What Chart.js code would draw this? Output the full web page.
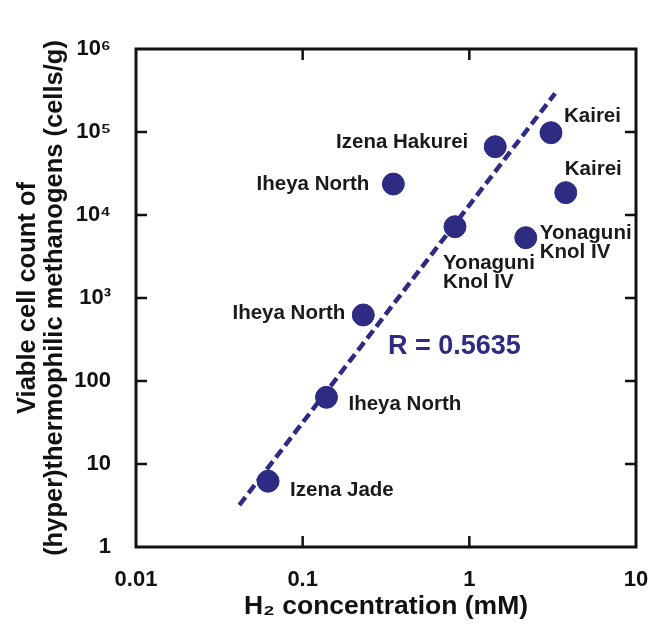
<!DOCTYPE html>
<html>
<head>
<meta charset="utf-8">
<script src="https://cdn.jsdelivr.net/npm/chart.js@4"></script>
<style>
  body { margin: 0; background: #fff; }
  canvas { display: block; }
</style>
</head>
<body>
<canvas id="h2-chart" width="652" height="636"></canvas>
<script>
// H2 concentration (mM) and viable cell count (cells/g) for each site
const h2Values = [0.062, 0.139, 0.231, 0.35, 0.82, 1.43, 2.18, 3.09, 3.79];
const cellCounts = [6.2, 63.6, 624, 23600, 7230, 66500, 5330, 98000, 18600];
const siteNames = ['Izena Jade', 'Iheya North', 'Iheya North', 'Iheya North', 'Yonaguni\nKnol IV',
                   'Izena Hakurei', 'Yonaguni\nKnol IV', 'Kairei', 'Kairei'];

// regression line end points
const fitX = [0.0417, 3.27];
const fitY = [3.2, 292000];
const fitLabel = 'R = 0.5635';
const fitLabelAt = {x: 0.325, y: 259};

const xTickValues = [0.01, 0.1, 1, 10];
const xTickLabels = ['0.01', '0.1', '1', '10'];
const yTickValues = [1, 10, 100, 1000, 10000, 100000, 1000000];
const yTickLabels = ['1', '10', '100', '10³', '10⁴', '10⁵', '10⁶'];

const navy = '#2e2b83';
const fontFamily = '"Liberation Sans", Arial, sans-serif';

// label placement next to each dot: [dx, dy, align]
const labelOffsets = [
    [22, 9, 'left'], [22, 7, 'left'], [-18, -2, 'right'], [-24, 0, 'right'], [-12, 37, 'left'],
    [-27, -4, 'right'], [14, -4, 'left'], [13, -16, 'left'], [-1, -23, 'left']
];

const points = h2Values.map((v, i) => ({x: v, y: cellCounts[i]}));
const fitPoints = fitX.map((v, i) => ({x: v, y: fitY[i]}));

// box frame with inward ticks
const framePlugin = {
    id: 'frame',
    afterDraw(chart) {
        const c = chart.ctx;
        const {left, right, top, bottom} = chart.chartArea;
        const xs = chart.scales.x, ys = chart.scales.y;
        const len = 11;
        c.save();
        c.strokeStyle = '#111';
        c.lineWidth = 3;
        c.strokeRect(left, top, right - left, bottom - top);
        c.lineWidth = 2.5;
        c.beginPath();
        xTickValues.slice(1, -1).forEach(v => {
            const px = xs.getPixelForValue(v);
            c.moveTo(px, bottom); c.lineTo(px, bottom - len);
            c.moveTo(px, top); c.lineTo(px, top + len);
        });
        yTickValues.slice(1, -1).forEach(v => {
            const py = ys.getPixelForValue(v);
            c.moveTo(left, py); c.lineTo(left + len, py);
            c.moveTo(right, py); c.lineTo(right - len, py);
        });
        c.stroke();
        c.restore();
    }
};

// site names and R value
const labelPlugin = {
    id: 'siteLabels',
    afterDatasetsDraw(chart) {
        const c = chart.ctx;
        const xs = chart.scales.x, ys = chart.scales.y;
        c.save();
        c.font = 'bold 20.5px ' + fontFamily;
        c.fillStyle = '#1a1a1a';
        c.textBaseline = 'middle';
        points.forEach((p, i) => {
            const px = xs.getPixelForValue(p.x);
            const py = ys.getPixelForValue(p.y);
            const [dx, dy, align] = labelOffsets[i];
            c.textAlign = align;
            siteNames[i].split('\n').forEach((line, j) => {
                c.fillText(line, px + dx, py + dy + j * 19);
            });
        });
        c.font = 'bold 27px ' + fontFamily;
        c.fillStyle = navy;
        c.textAlign = 'left';
        c.fillText(fitLabel, xs.getPixelForValue(fitLabelAt.x), ys.getPixelForValue(fitLabelAt.y));
        c.restore();
    }
};

new Chart(document.getElementById('h2-chart').getContext('2d'), {
    type: 'scatter',
    data: {
        datasets: [{
            label: 'fit',
            type: 'line',
            data: fitPoints,
            borderColor: navy,
            borderWidth: 4.5,
            borderDash: [10, 5],
            pointRadius: 0,
            fill: false,
            order: 2
        }, {
            label: 'sites',
            data: points,
            backgroundColor: navy,
            borderColor: navy,
            pointRadius: 11,
            pointHoverRadius: 11,
            order: 1
        }]
    },
    options: {
        responsive: false,
        animation: false,
        devicePixelRatio: 1,
        layout: {padding: {top: 49, right: 16, left: 0, bottom: 0}},
        plugins: {
            legend: {display: false},
            tooltip: {enabled: false}
        },
        scales: {
            x: {
                type: 'logarithmic',
                min: 0.01,
                max: 10,
                grid: {display: false},
                border: {display: false},
                afterBuildTicks: s => { s.ticks = xTickValues.map(v => ({value: v})); },
                afterFit: s => { s.height = 89; s.paddingLeft = 0; s.paddingRight = 0; },
                ticks: {
                    color: '#111',
                    padding: 12,
                    maxRotation: 0,
                    font: {family: fontFamily, size: 22, weight: 'bold'},
                    callback: (v, i) => xTickLabels[i]
                },
                title: {
                    display: true,
                    text: 'H₂ concentration (mM)',
                    color: '#111',
                    padding: {top: 0, bottom: 15},
                    font: {family: fontFamily, size: 26.5, weight: 'bold', lineHeight: 1.1}
                }
            },
            y: {
                type: 'logarithmic',
                min: 1,
                max: 1000000,
                grid: {display: false},
                border: {display: false},
                afterBuildTicks: s => { s.ticks = yTickValues.map(v => ({value: v})); },
                afterFit: s => { s.width = 136; s.paddingTop = 0; s.paddingBottom = 0; },
                ticks: {
                    color: '#111',
                    padding: 17,
                    font: {family: fontFamily, size: 22, weight: 'bold'},
                    callback: (v, i) => yTickLabels[i]
                },
                title: {
                    display: true,
                    text: ['Viable cell count of', '(hyper)thermophilic methanogens (cells/g)'],
                    color: '#111',
                    padding: {top: 14, bottom: 0},
                    font: {family: fontFamily, size: 25.5, weight: 'bold', lineHeight: 1.08}
                }
            }
        }
    },
    plugins: [framePlugin, labelPlugin]
});
</script>
</body>
</html>
